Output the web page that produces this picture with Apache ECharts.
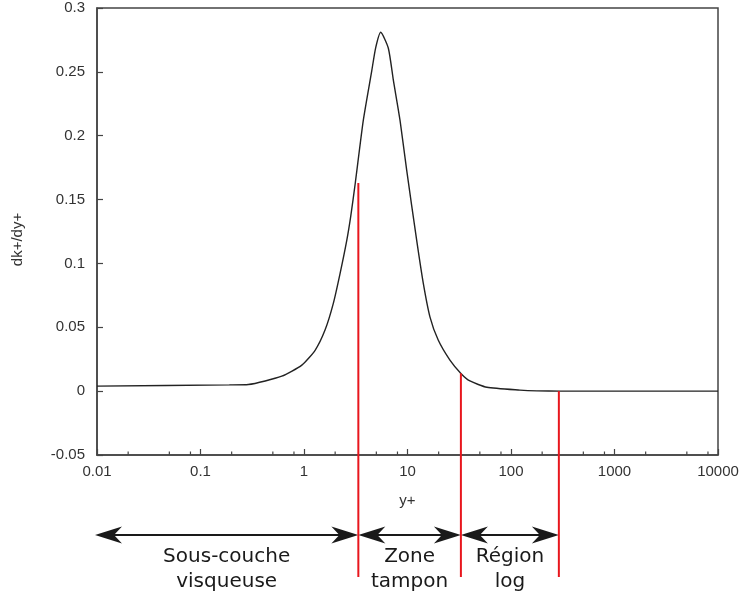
<!DOCTYPE html>
<html>
<head>
<meta charset="utf-8">
<script src="https://cdn.jsdelivr.net/npm/echarts@6/dist/echarts.min.js"></script>
<style>html,body{margin:0;padding:0;background:#fff}#c{width:743px;height:600px}</style>
</head>
<body>
<div id="c"></div>
<script>
// y+ values and dk+/dy+ values
const yPlus = [0.01, 0.19, 0.29, 0.61, 0.953, 1.28, 1.60, 1.92, 2.23, 2.59, 2.83, 3.13, 3.74, 4.51, 4.93, 5.51, 6.53, 7.30, 8.47, 9.82, 12.27, 14.2, 16.5, 19.8, 25.7, 32.8, 40.1, 58.5, 122, 178, 300, 10000];
const dkdy = [0.0039, 0.0049, 0.0052, 0.0117, 0.0204, 0.032, 0.048, 0.0687, 0.092, 0.118, 0.137, 0.163, 0.212, 0.2506, 0.269, 0.281, 0.2685, 0.2435, 0.212, 0.173, 0.118, 0.0846, 0.058, 0.040, 0.0243, 0.0139, 0.008, 0.003, 0.0008, 0.0002, 0, 0];
// x tick labels
const xTickLabels = ['0.01', '0.1', '1', '10', '100', '1000', '10000'];
// zone boundaries (y+) and the curve value where each red line starts
const zoneBounds = [3.35, 32.8, 290];
const boundTops = [0.163, 0.0139, 0];
const zoneStart = 0.01;
const zoneLabels = [['Sous-couche', 'visqueuse'], ['Zone', 'tampon'], ['Région', 'log']];
const minorMultipliers = [2, 5, 8];
const yAxisTitle = 'dk+/dy+';

const chart = echarts.init(document.getElementById('c'));
const axisColor = '#444';
const labelColor = '#333';
const font = 'Liberation Sans, Arial, sans-serif';

chart.setOption({
  animation: false,
  backgroundColor: '#fff',
  grid: { left: 97, right: 25, top: 8, bottom: 145, show: true, borderColor: axisColor, borderWidth: 1.5, backgroundColor: 'transparent' },
  xAxis: {
    type: 'log', logBase: 10, min: 0.01, max: 10000,
    name: 'y+', nameLocation: 'middle', nameGap: 38,
    nameTextStyle: { fontFamily: font, fontSize: 15, color: labelColor },
    axisLine: { onZero: false, lineStyle: { color: axisColor, width: 1.5 } },
    axisTick: { inside: true, length: 6, lineStyle: { color: axisColor, width: 1.2 } },
    axisLabel: {
      fontFamily: font, fontSize: 15, color: labelColor, margin: 9,
      formatter: function (v) {
        const e = Math.round(Math.log10(v));
        return xTickLabels[e + 2];
      }
    },
    splitLine: { show: false }
  },
  yAxis: {
    type: 'value', min: -0.05, max: 0.3, interval: 0.05,
    axisLine: { show: true, onZero: false, lineStyle: { color: axisColor, width: 1.5 } },
    axisTick: { show: true, inside: true, length: 6, lineStyle: { color: axisColor, width: 1.2 } },
    axisLabel: {
      fontFamily: font, fontSize: 15, color: labelColor, margin: 12,
      formatter: function (v) { return String(Math.round(v * 100) / 100); }
    },
    splitLine: { show: false }
  },
  series: [{
    type: 'line',
    data: yPlus.map((x, i) => [x, dkdy[i]]),
    showSymbol: false,
    smooth: 0.2,
    lineStyle: { color: '#222', width: 1.4 },
    clip: true,
    silent: true
  }]
});

function px(x) { return chart.convertToPixel({ xAxisIndex: 0 }, x); }
function py(y) { return chart.convertToPixel({ yAxisIndex: 0 }, y); }

const bottom = py(-0.05);
const graphics = [];

// y axis title
graphics.push({
  type: 'text', x: 18, y: (py(0.3) + bottom) / 2 + 8, rotation: Math.PI / 2,
  style: { text: yAxisTitle, fontFamily: font, fontSize: 15, fill: labelColor, align: 'center', verticalAlign: 'middle' }
});

// minor ticks on log axis
for (let d = -2; d < 4; d++) {
  minorMultipliers.forEach(m => {
    const x = px(m * Math.pow(10, d));
    graphics.push({ type: 'line', shape: { x1: x, y1: bottom, x2: x, y2: bottom - 3.5 }, style: { stroke: axisColor, lineWidth: 1.2 }, z: 10 });
  });
}

const redBottom = bottom + 122;
zoneBounds.forEach((b, i) => {
  const x = px(b);
  graphics.push({ type: 'line', shape: { x1: x, y1: py(boundTops[i]), x2: x, y2: redBottom }, style: { stroke: '#e8161d', lineWidth: 2 }, z: 20 });
});

const arrowY = bottom + 80;
function arrowHead(tipX, dir) {
  // dir = -1 points left, +1 points right
  const L = 27, H = 8.5, N = 19;
  return {
    type: 'polygon',
    shape: { points: [[tipX, arrowY], [tipX - dir * L, arrowY - H], [tipX - dir * N, arrowY], [tipX - dir * L, arrowY + H]] },
    style: { fill: '#1a1a1a' }, z: 15
  };
}
const edges = [zoneStart].concat(zoneBounds);
for (let i = 0; i < 3; i++) {
  const a = px(edges[i]) - (i === 0 ? 2 : 0), b = px(edges[i + 1]);
  graphics.push({ type: 'line', shape: { x1: a + 6, y1: arrowY, x2: b - 6, y2: arrowY }, style: { stroke: '#1a1a1a', lineWidth: 2 }, z: 14 });
  graphics.push(arrowHead(a, -1));
  graphics.push(arrowHead(b, 1));
  const cx = (a + b) / 2;
  zoneLabels[i].forEach((t, j) => {
    graphics.push({
      type: 'text', x: cx, y: arrowY + 22 + j * 25,
      style: { text: t, fontFamily: 'DejaVu Sans, sans-serif', fontSize: 20, fill: '#1a1a1a', align: 'center', verticalAlign: 'middle' },
      z: 16
    });
  });
}

chart.setOption({ graphic: graphics });
</script>
</body>
</html>
